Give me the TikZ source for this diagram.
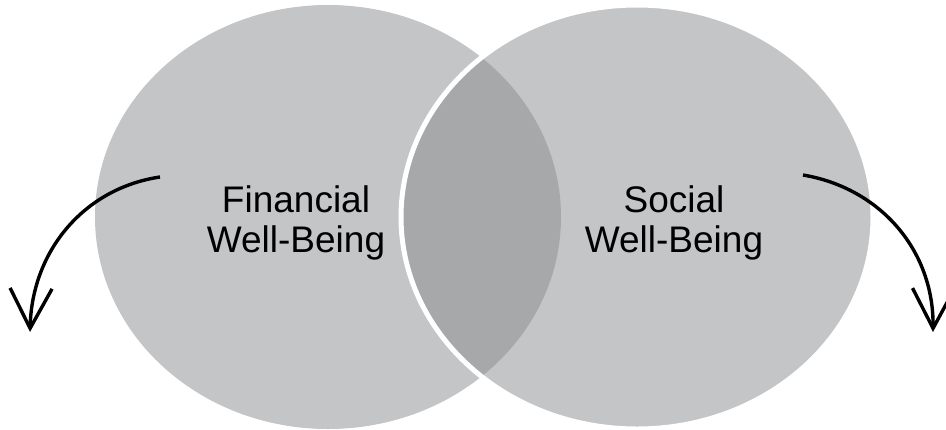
\documentclass[tikz,border=0pt]{standalone}
\usepackage{fontspec}
\setmainfont{Liberation Sans}
\usepackage{xcolor}
\usetikzlibrary{arrows.meta}

\definecolor{vennGray}{HTML}{C4C5C7}
\definecolor{vennDark}{HTML}{A6A8A9}

\tikzset{
  vennLabel/.style={align=center, font=\fontsize{37}{40}\selectfont, inner sep=0pt},
  bendArrow/.style={line width=3.4pt, -{Straight Barb[length=40pt,width=42pt]}}
}

\begin{document}
\begin{tikzpicture}[x=1pt, y=-1pt]
\useasboundingbox (0,0) rectangle (946,429);
\clip (0,0) rectangle (946,429);
% the two circles
\fill[vennGray] (328,217) ellipse [x radius=233, y radius=212];
\fill[vennGray] (637,217) ellipse [x radius=236, y radius=212];
% overlap
\begin{scope}
  \clip (328,217) ellipse [x radius=233, y radius=212];
  \fill[vennDark] (637,217) ellipse [x radius=236, y radius=212];
\end{scope}
\draw[white, line width=5pt] (637,217) ellipse [x radius=236, y radius=212];
% labels
\node[vennLabel, anchor=base] (fin) at (296,252) {Financial\\Well-Being};
\node[vennLabel, anchor=base] (soc) at (674,252) {Social\\Well-Being};
% arrows
\coordinate (finStart) at (160,177);
\coordinate (finEnd) at (30,332);
\coordinate (socStart) at (803,175);
\coordinate (socEnd) at (933,332);
\draw[bendArrow] (finStart) .. controls (85,188) and (32,250) .. (finEnd);
\draw[bendArrow] (socStart) .. controls (880,188) and (934,250) .. (socEnd);
\end{tikzpicture}
\end{document}
